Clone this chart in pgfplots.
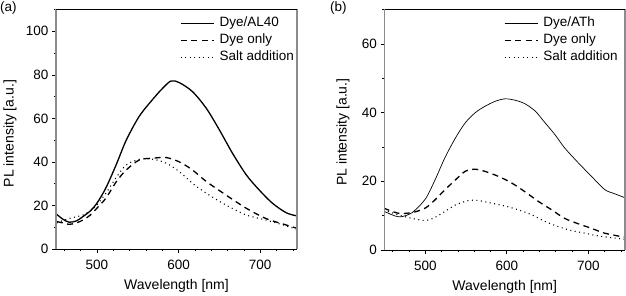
\documentclass[border=0pt]{standalone}
\usepackage{pgfplots}
\pgfplotsset{compat=1.18}
\usepackage{fontspec}
\setmainfont{Liberation Sans}
\definecolor{axgray}{HTML}{8C8C8C}

\pgfplotstableread{
x y
451 15.9
458 13.8
466 12.3
475 12.9
483 14.9
492 17.5
500 21
511 28
524 39
536 50
552 61
569 69
581 74
591 77.2
601 76.4
617 72.3
634 64.6
650 54.7
666 44
683 34
699 27
715 21
732 16.6
745 15.2
}\aSolid
\pgfplotstableread{
x y
451 12.6
458 12.0
466 11.3
475 12.0
483 13.3
492 15.6
500 18.7
511 23.3
524 31
536 36.3
552 40.9
569 41.7
585 42
601 40
617 36.3
634 31
658 24.8
683 18.7
707 14
732 11
745 9.5
}\aDash
\pgfplotstableread{
x y
451 12
458 13
466 14
475 14.8
483 15.6
492 17.5
500 20.2
511 25.6
524 33
536 38.6
552 41.2
569 41.2
585 39.4
601 35.5
617 30.2
634 25.6
658 20.2
683 15.6
707 13.3
732 10.6
745 9
}\aDot
\pgfplotstableread{
x y
449 11.3
463 9.9
471 9.7
484 10.9
500 14.8
512 20.4
524 26.8
537 32.6
549 37
561 39.9
573 41.8
586 43.3
598 44
610 43.6
622 42.6
635 40.4
647 37
659 33.6
671 29.7
688 25.3
704 21.4
720 17.6
732 16.4
745 15.2
}\bSolid
\pgfplotstableread{
x y
449 12.2
467 10.7
484 10.9
500 12.2
512 14.6
524 17.5
537 20.4
549 22.9
561 23.5
573 22.9
590 21.4
606 19.5
622 17
639 14.1
655 11.7
671 9.2
688 7.6
704 6.3
720 4.9
745 3.7
}\bDash
\pgfplotstableread{
x y
449 11.7
467 10.2
484 9.2
500 8.6
512 9.5
524 11.2
537 13.1
553 14.4
565 14.4
582 13.6
598 12.8
614 11.7
631 10.2
647 8.3
663 6.8
680 5.6
696 4.9
712 4.1
745 3.1
}\bDot

\pgfplotsset{
  panel/.style={
    scale only axis,
    axis line style={draw=none},
    xmin=450, xmax=745,
    xtick={500,600,700},
    minor xtick={460,480,520,540,560,580,620,640,660,680,720,740},
    tick align=outside,
    xtick pos=bottom, ytick pos=left,
    major tick length=4pt, minor tick length=2.5pt,
    every tick/.style={black, line width=0.6pt},
    tick label style={font=\fontsize{13.5}{16}\selectfont},
    /pgf/number format/assume math mode=true,
    xticklabel style={yshift=-4pt},
    xlabel={Wavelength [nm]},
    ylabel={PL intensity [a.u.]},
    every axis x label/.style={at={(axis description cs:0.5,0)}, anchor=center, yshift=-37pt, font=\fontsize{14}{16}\selectfont},
    legend cell align=left,
    legend style={draw=none, fill=none, inner sep=0pt, column sep=5pt, row sep=2pt,
      font=\fontsize{13.5}{16}\selectfont,
      nodes={inner sep=0pt, text height=11pt, text depth=4pt}},
    legend image code/.code={\draw[##1] (0pt,0pt) -- (33pt,0pt);},
    after end axis/.code={
      \draw[axgray, line width=1.6pt] (rel axis cs:0,0) -- (rel axis cs:0,1);
      \draw[axgray, line width=1.6pt] (rel axis cs:1,0) -- (rel axis cs:1,1);
      \draw[black, line width=0.9pt] (rel axis cs:0,1) -- (rel axis cs:1,1);
      \draw[black, line width=0.8pt] (rel axis cs:0,0) -- (rel axis cs:1,0);
    },
  },
  dashstyle/.style={black, line width=1.3pt, dash pattern=on 6pt off 4.5pt},
  dotstyle/.style={black, line width=1.1pt, dash pattern=on 1pt off 3.5pt},
}

\begin{document}
\begin{tikzpicture}
\useasboundingbox (0pt,0pt) rectangle (626pt,296pt);
\node[anchor=west, font=\fontsize{13.5}{16}\selectfont, inner sep=0pt] at (0pt,288pt) {(a)};
\node[anchor=west, font=\fontsize{13.5}{16}\selectfont, inner sep=0pt] at (330pt,288pt) {(b)};

\begin{axis}[panel,
  at={(56pt,47pt)}, anchor=south west,
  width=241pt, height=239.5pt,
  ymin=0, ymax=110,
  ytick={0,20,40,60,80,100},
  minor ytick={10,30,50,70,90,110},
  every axis y label/.style={at={(axis description cs:-0.191,0.482)}, rotate=90, anchor=center, font=\fontsize{14}{16}\selectfont},
  legend style={at={(axis description cs:0.515,0.975)}, anchor=north west},
]
\addplot[black, line width=1.3pt, smooth] table[x=x,y=y] {\aSolid};
\addlegendentry{Dye/AL40}
\addplot[dashstyle, smooth] table[x=x,y=y] {\aDash};
\addlegendentry{Dye only}
\addplot[dotstyle, smooth] table[x=x,y=y] {\aDot};
\addlegendentry{Salt addition}
\end{axis}

\begin{axis}[panel,
  at={(384.5pt,46pt)}, anchor=south west,
  width=240.5pt, height=240.5pt,
  ymin=0, ymax=70,
  ytick={0,20,40,60},
  minor ytick={10,30,50,70},
  every axis y label/.style={at={(axis description cs:-0.1726,0.49)}, rotate=90, anchor=center, font=\fontsize{14}{16}\selectfont},
  legend style={at={(axis description cs:0.496,0.975)}, anchor=north west},
]
\addplot[black, line width=0.7pt, smooth] table[x=x,y=y] {\bSolid};
\addlegendentry{Dye/ATh}
\addplot[dashstyle, smooth] table[x=x,y=y] {\bDash};
\addlegendentry{Dye only}
\addplot[dotstyle, smooth] table[x=x,y=y] {\bDot};
\addlegendentry{Salt addition}
\end{axis}
\end{tikzpicture}
\end{document}
